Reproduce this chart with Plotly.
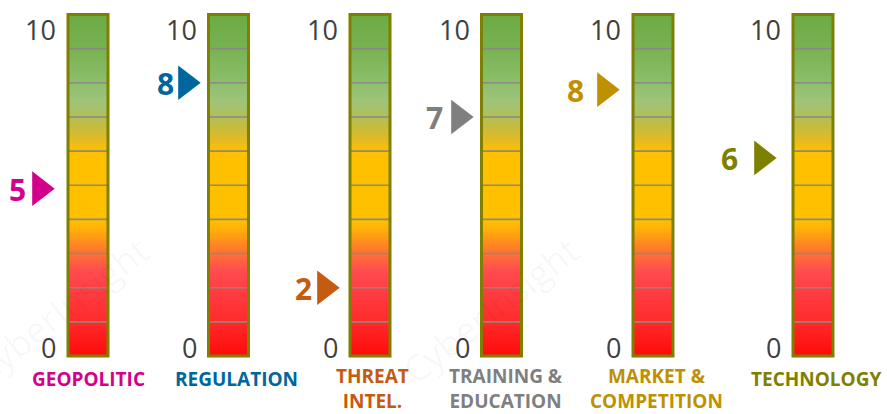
import numpy as np
import plotly.graph_objects as go

# ---------------- data ----------------
categories = ["GEOPOLITIC", "REGULATION", "THREAT\nINTEL.", "TRAINING &\nEDUCATION",
              "MARKET &\nCOMPETITION", "TECHNOLOGY"]
scores = [5, 8, 2, 7, 8, 6]                 # displayed score
pointer_values = [4.9, 8.0, 2.0, 7.0, 7.8, 5.8]  # where the arrow sits on the scale
scale_min, scale_max = 0, 10
tick_labels = ["0", "10"]

# ---------------- styling / layout ----------------
W, H = 887, 414
label_colors = ["#D4008C", "#00669E", "#C55A11", "#7F7F7F", "#BF9000", "#808000"]
bar_centers = [88, 228.5, 370, 501.5, 653, 813]
bar_w = 40
arrow_tips = [57, 203, 342, 476, 622, 779]
score_x = [17, 165, 303, 434, 575, 729]
cat_x = [88, 236, 372, 506, 656, 816]

# pixel mapping for y: value 0 -> 356px, value 10 -> 14.5px (from top)
px0, px10 = 356.0, 14.5
ppv = (px0 - px10) / (scale_max - scale_min)
y_top = (px0 - 0) / ppv
y_bot = (px0 - H) / ppv

colorscale = [
    [0.00, "#FF0A0A"], [0.10, "#FF2A2A"], [0.20, "#FF3F45"], [0.25, "#FF4C50"],
    [0.29, "#FF6A3A"], [0.33, "#FF8820"], [0.37, "#FFAE0C"], [0.40, "#FFC000"],
    [0.60, "#FFC000"], [0.63, "#E6BA20"], [0.67, "#C6BC3E"], [0.71, "#ADC060"],
    [0.75, "#9CC47A"], [0.82, "#88BC66"], [0.90, "#78B252"], [1.00, "#6CAB44"],
]

fig = go.Figure()
shapes = []
annotations = []

y_edges = np.linspace(scale_min, scale_max, 201)
y_mid = (y_edges[:-1] + y_edges[1:]) / 2

for i, cat in enumerate(categories):
    cx = bar_centers[i]
    x0, x1 = cx - bar_w / 2, cx + bar_w / 2
    fig.add_trace(go.Heatmap(
        x=[x0, x1], y=y_edges, z=y_mid.reshape(-1, 1),
        colorscale=colorscale, zmin=scale_min, zmax=scale_max,
        showscale=False, hoverinfo="skip"))
    # grid lines
    for v in range(scale_min + 1, scale_max):
        shapes.append(dict(type="line", xref="x", yref="y", x0=x0, x1=x1, y0=v, y1=v,
                           line=dict(color="#8A8A80", width=1.6), layer="above"))
    # border
    shapes.append(dict(type="rect", xref="x", yref="y", x0=x0, x1=x1,
                       y0=scale_min, y1=scale_max,
                       line=dict(color="#7F7F00", width=3), layer="above"))
    # tick labels
    annotations.append(dict(x=x0 - 10, y=scale_max, text=tick_labels[1], showarrow=False,
                            xanchor="right", yanchor="middle", yshift=-15,
                            font=dict(family="Open Sans", size=27, color="#404040")))
    annotations.append(dict(x=x0 - 10, y=scale_min, text=tick_labels[0], showarrow=False,
                            xanchor="right", yanchor="middle", yshift=9,
                            font=dict(family="Open Sans", size=27, color="#404040")))
    # score number
    annotations.append(dict(x=score_x[i], y=pointer_values[i], text="<b>%d</b>" % scores[i],
                            showarrow=False, xanchor="center", yanchor="middle", yshift=-1,
                            font=dict(family="Open Sans", size=30, color=label_colors[i])))
    # category label
    lines = cat.split("\n")
    centre_px = 379 + 9.5 * (len(lines) - 1)
    annotations.append(dict(x=cat_x[i], y=(px0 - centre_px) / ppv,
                            text="<br>".join("<b>%s</b>" % ln for ln in lines),
                            showarrow=False, xanchor="center", yanchor="middle", borderpad=0,
                            font=dict(family="Open Sans", size=19, color=label_colors[i])))

# arrow markers (triangle-right: tip at +size/sqrt(3) from centre)
tri_size = 30
fig.add_trace(go.Scatter(
    x=[t - tri_size / np.sqrt(3) for t in arrow_tips], y=pointer_values,
    mode="markers", hoverinfo="skip",
    marker=dict(symbol="triangle-right", size=tri_size, color=label_colors,
                line=dict(width=0))))

# faint watermark
for (wx, wy) in [(60, 310), (490, 310), (920, 310), (40, -30), (470, -30), (900, -30)]:
    annotations.append(dict(x=wx, y=(px0 - wy) / ppv, text="CyberInsight", showarrow=False,
                            textangle=-38, xanchor="center", yanchor="middle",
                            font=dict(family="Open Sans", size=36, color="rgba(0,0,0,0.035)")))

fig.update_layout(
    width=W, height=H, margin=dict(l=0, r=0, t=0, b=0),
    paper_bgcolor="white", plot_bgcolor="white",
    showlegend=False, shapes=shapes, annotations=annotations,
    xaxis=dict(range=[0, W], visible=False, fixedrange=True),
    yaxis=dict(range=[y_bot, y_top], visible=False, fixedrange=True),
)
fig.write_html("out.html", config={"displayModeBar": False},
               post_script="document.body.style.margin='0';document.body.style.overflow='hidden';")
